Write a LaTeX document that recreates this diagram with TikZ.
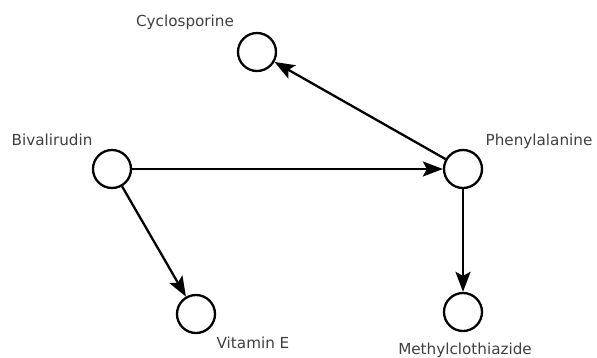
\documentclass[tikz,border=0pt]{standalone}
\usepackage{fontspec}
\setmainfont{DejaVu Sans}
\usetikzlibrary{arrows.meta}
\definecolor{labelgray}{RGB}{64,64,64}
\begin{document}
\begin{tikzpicture}[x=1pt,y=-1pt,
  vert/.style={circle,draw=black,line width=2.3pt,minimum size=38pt,inner sep=0pt,fill=white},
  lbl/.style={anchor=base,text=labelgray,font=\fontsize{15.2}{17}\selectfont,inner sep=0pt},
  edge/.style={line width=2.3pt,-{Stealth[length=20pt,width=15pt,inset=4pt]}}]
\useasboundingbox[fill=white] (0,0) rectangle (597,357);
\node[vert] (cyc) at (257,52) {};
\node[vert] (biv) at (112,169) {};
\node[vert] (phe) at (463,169) {};
\node[vert] (vit) at (196,314) {};
\node[vert] (met) at (463,312) {};
\node[lbl] (lcyc) at (185,26) {Cyclosporine};
\node[lbl] (lbiv) at (52,145.5) {Bivalirudin};
\node[lbl] (lphe) at (539,145.5) {Phenylalanine};
\node[lbl] (lvit) at (253,348) {Vitamin E};
\node[lbl] (lmet) at (465,354) {Methylclothiazide};
\draw[edge] (biv) -- (phe);
\draw[edge] (biv) -- (vit);
\draw[edge] (phe) -- (cyc);
\draw[edge] (phe) -- (met);
\end{tikzpicture}
\end{document}
